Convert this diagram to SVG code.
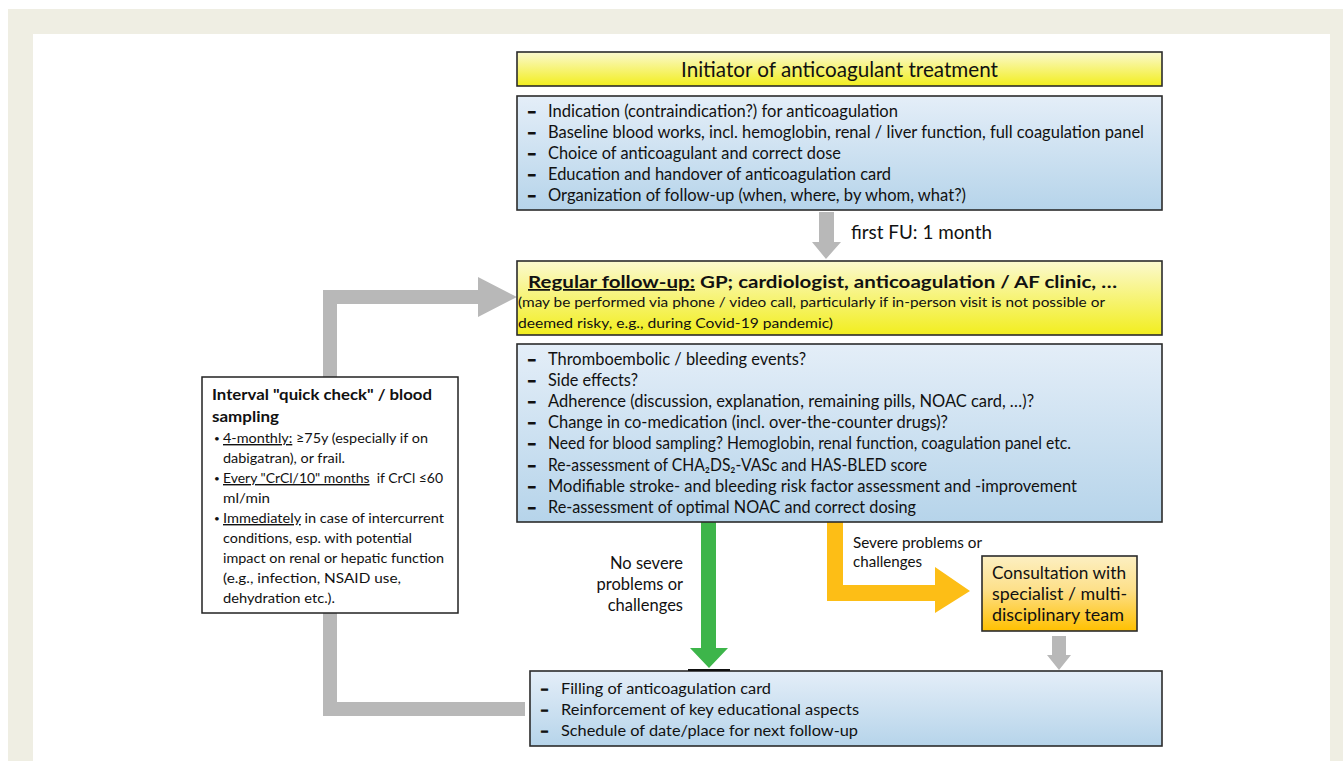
<svg xmlns="http://www.w3.org/2000/svg" width="1343" height="761" viewBox="0 0 1343 761">
<defs>
<linearGradient id="gY" x1="0" y1="0" x2="0" y2="1"><stop offset="0" stop-color="#FBF9CF"/><stop offset="1" stop-color="#F2EE1E"/></linearGradient>
<linearGradient id="gB" x1="0" y1="0" x2="0" y2="1"><stop offset="0" stop-color="#E4EEF8"/><stop offset="1" stop-color="#B6D4EA"/></linearGradient>
<linearGradient id="gO" x1="0" y1="0" x2="0" y2="1"><stop offset="0" stop-color="#FCEFC2"/><stop offset="0.45" stop-color="#FDE08A"/><stop offset="1" stop-color="#FFC000"/></linearGradient>
<style>
text{font-family:Lato,"Liberation Sans",sans-serif;fill:#111}
.box{stroke:#2b2b2b;stroke-width:1.6}
.t17{font-size:16.5px}
.t15{font-size:15px}
.b{font-weight:bold}
.u{text-decoration:underline}
.gray{fill:#B8B8B8}
.dash{font-weight:bold;stroke:#111;stroke-width:0.9}
.bul{font-size:10px}
</style>
</defs>
<rect x="0" y="0" width="1343" height="761" fill="#ffffff"/>
<rect x="8" y="9" width="1335" height="752" fill="#EFEEE3"/>
<rect x="33" y="34" width="1297" height="727" fill="#ffffff"/>

<g id="connectors">
<path class="gray" d="M323,716 L323,290 L478,290 L478,277 L517,297 L478,317 L478,304 L337,304 L337,702 L525,702 L525,716 Z"/>
<path class="gray" d="M819,212 L834,212 L834,242 L841,242 L826,259 L812,242 L819,242 Z"/>
<path fill="#3DB54A" d="M701,522 L716,522 L716,648 L728,648 L709,668 L690,648 L701,648 Z"/>
<path fill="#FDBE16" d="M827,522 L843,522 L843,585 L935,585 L935,567 L970,591 L935,613 L935,601 L827,601 Z"/>
<path class="gray" d="M1052,636 L1066,636 L1066,655 L1071,655 L1059,670 L1047,655 L1052,655 Z"/>
<text x="851" y="239" style="font-size:19px" textLength="141" lengthAdjust="spacingAndGlyphs">first FU: 1 month</text>
<g style="font-size:16.5px" text-anchor="end">
<text x="683" y="569">No severe</text>
<text x="683" y="590">problems or</text>
<text x="683" y="611">challenges</text>
</g>
<text x="853" y="548" class="t15" textLength="129" lengthAdjust="spacingAndGlyphs">Severe problems or</text>
<text x="853" y="567" class="t15" textLength="69" lengthAdjust="spacingAndGlyphs">challenges</text>
</g>

<g id="initiator">
<rect x="517" y="52" width="645" height="34" fill="url(#gY)" class="box"/>
<text x="681" y="77" style="font-size:20.5px" textLength="317" lengthAdjust="spacingAndGlyphs">Initiator of anticoagulant treatment</text>
</g>

<g id="initiator-tasks" class="t17">
<rect x="517" y="96" width="645" height="114" fill="url(#gB)" class="box"/>
<text x="527" y="117" class="dash">–</text><text x="548" y="117" textLength="350" lengthAdjust="spacingAndGlyphs">Indication (contraindication?) for anticoagulation</text>
<text x="527" y="138" class="dash">–</text><text x="548" y="138" textLength="596" lengthAdjust="spacingAndGlyphs">Baseline blood works, incl. hemoglobin, renal / liver function, full coagulation panel</text>
<text x="527" y="159" class="dash">–</text><text x="548" y="159" textLength="293" lengthAdjust="spacingAndGlyphs">Choice of anticoagulant and correct dose</text>
<text x="527" y="180" class="dash">–</text><text x="548" y="180" textLength="343" lengthAdjust="spacingAndGlyphs">Education and handover of anticoagulation card</text>
<text x="527" y="201" class="dash">–</text><text x="548" y="201" textLength="418" lengthAdjust="spacingAndGlyphs">Organization of follow-up (when, where, by whom, what?)</text>
</g>

<g id="regular-follow-up">
<rect x="517" y="261" width="645" height="74" fill="url(#gY)" class="box"/>
<text x="528" y="288" class="b" style="font-size:17.5px" textLength="589" lengthAdjust="spacingAndGlyphs"><tspan class="u">Regular follow-up:</tspan> GP; cardiologist, anticoagulation / AF clinic, …</text>
<text x="518" y="307" style="font-size:14px" textLength="587" lengthAdjust="spacingAndGlyphs">(may be performed via phone / video call, particularly if in-person visit is not possible or</text>
<text x="518" y="328" style="font-size:14px" textLength="315" lengthAdjust="spacingAndGlyphs">deemed risky, e.g., during Covid-19 pandemic)</text>
</g>

<g id="follow-up-checks" class="t17">
<rect x="517" y="344" width="645" height="178" fill="url(#gB)" class="box"/>
<text x="527" y="365" class="dash">–</text><text x="548" y="365" textLength="258" lengthAdjust="spacingAndGlyphs">Thromboembolic / bleeding events?</text>
<text x="527" y="386" class="dash">–</text><text x="548" y="386" textLength="90" lengthAdjust="spacingAndGlyphs">Side effects?</text>
<text x="527" y="407" class="dash">–</text><text x="548" y="407" textLength="486" lengthAdjust="spacingAndGlyphs">Adherence (discussion, explanation, remaining pills, NOAC card, …)?</text>
<text x="527" y="428" class="dash">–</text><text x="548" y="428" textLength="400" lengthAdjust="spacingAndGlyphs">Change in co-medication (incl. over-the-counter drugs)?</text>
<text x="527" y="449" class="dash">–</text><text x="548" y="449" textLength="523" lengthAdjust="spacingAndGlyphs">Need for blood sampling? Hemoglobin, renal function, coagulation panel etc.</text>
<text x="527" y="471" class="dash">–</text><text x="548" y="471" textLength="379" lengthAdjust="spacingAndGlyphs">Re-assessment of CHA₂DS₂-VASc and HAS-BLED score</text>
<text x="527" y="492" class="dash">–</text><text x="548" y="492" textLength="529" lengthAdjust="spacingAndGlyphs">Modifiable stroke- and bleeding risk factor assessment and -improvement</text>
<text x="527" y="513" class="dash">–</text><text x="548" y="513" textLength="368" lengthAdjust="spacingAndGlyphs">Re-assessment of optimal NOAC and correct dosing</text>
</g>

<g id="quick-check">
<rect x="202" y="377" width="256" height="236" fill="#ffffff" stroke="#222" stroke-width="1.5"/>
<text x="212" y="400" class="b" style="font-size:16px" textLength="220" lengthAdjust="spacingAndGlyphs">Interval "quick check" / blood</text>
<text x="212" y="422" class="b" style="font-size:16px" textLength="67" lengthAdjust="spacingAndGlyphs">sampling</text>
<g style="font-size:14px">
<text x="214" y="442" class="bul">•</text>
<text x="223" y="443" textLength="205" lengthAdjust="spacingAndGlyphs"><tspan class="u">4-monthly:</tspan> ≥75y (especially if on</text>
<text x="223" y="463" textLength="122" lengthAdjust="spacingAndGlyphs">dabigatran), or frail.</text>
<text x="214" y="482" class="bul">•</text>
<text x="223" y="483" textLength="220" lengthAdjust="spacingAndGlyphs" xml:space="preserve"><tspan class="u">Every "CrCl/10" months</tspan>  if CrCl ≤60</text>
<text x="223" y="503" textLength="47" lengthAdjust="spacingAndGlyphs">ml/min</text>
<text x="214" y="522" class="bul">•</text>
<text x="223" y="523" textLength="221" lengthAdjust="spacingAndGlyphs"><tspan class="u">Immediately</tspan> in case of intercurrent</text>
<text x="223" y="543" textLength="189" lengthAdjust="spacingAndGlyphs">conditions, esp. with potential</text>
<text x="223" y="563" textLength="221" lengthAdjust="spacingAndGlyphs">impact on renal or hepatic function</text>
<text x="223" y="583" textLength="178" lengthAdjust="spacingAndGlyphs">(e.g., infection, NSAID use,</text>
<text x="223" y="603" textLength="112" lengthAdjust="spacingAndGlyphs">dehydration etc.).</text>
</g>
</g>

<g id="consultation">
<rect x="982" y="556" width="155" height="75" fill="url(#gO)" class="box"/>
<g style="font-size:16.5px">
<text x="992" y="579" textLength="134" lengthAdjust="spacingAndGlyphs">Consultation with</text>
<text x="992" y="600" textLength="135" lengthAdjust="spacingAndGlyphs">specialist / multi-</text>
<text x="992" y="621" textLength="132" lengthAdjust="spacingAndGlyphs">disciplinary team</text>
</g>
</g>

<g id="visit-closure">
<rect x="530" y="671" width="632" height="75" fill="url(#gB)" class="box"/>
<line x1="688" y1="670" x2="730" y2="670" stroke="#111" stroke-width="2"/>
<g style="font-size:15.5px">
<text x="540" y="694" class="dash">–</text><text x="561" y="694" textLength="210" lengthAdjust="spacingAndGlyphs">Filling of anticoagulation card</text>
<text x="540" y="715" class="dash">–</text><text x="561" y="715" textLength="298" lengthAdjust="spacingAndGlyphs">Reinforcement of key educational aspects</text>
<text x="540" y="736" class="dash">–</text><text x="561" y="736" textLength="297" lengthAdjust="spacingAndGlyphs">Schedule of date/place for next follow-up</text>
</g>
</g>
</svg>
